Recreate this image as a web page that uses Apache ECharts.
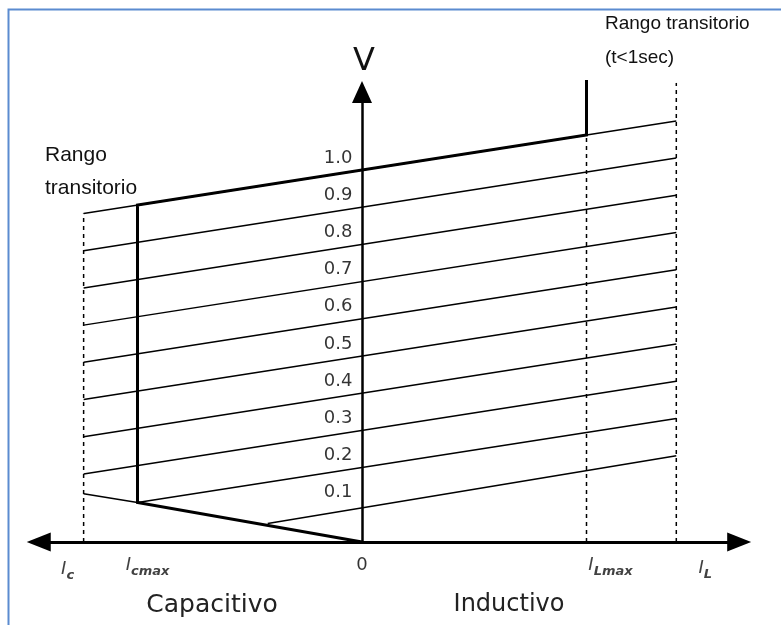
<!DOCTYPE html>
<html>
<head>
<meta charset="utf-8">
<script src="https://cdn.jsdelivr.net/npm/echarts@6/dist/echarts.min.js"></script>
<style>
  html, body { margin: 0; padding: 0; background: #fff; }
  #vi_chart { width: 781px; height: 625px; }
</style>
</head>
<body>
<div id="vi_chart"></div>
<script>
// voltage levels (labels on the V axis)
var levelNames = ['1.0', '0.9', '0.8', '0.7', '0.6', '0.5', '0.4', '0.3', '0.2', '0.1'];
var levelV = [1.0, 0.9, 0.8, 0.7, 0.6, 0.5, 0.4, 0.3, 0.2, 0.1];

// each slanted level line, start and end (x = current, Icmax = -100, ILmax = 100)
var lineStartX = [-124, -124, -124, -124, -124, -124, -124, -124, -100, -42];
var lineStartV = [0.883, 0.783, 0.683, 0.583, 0.483, 0.383, 0.283, 0.183, 0.106, 0.05];
var lineEndX = [140, 140, 140, 140, 140, 140, 140, 140, 140, 140];
var lineEndV = [1.132, 1.032, 0.932, 0.832, 0.732, 0.632, 0.532, 0.432, 0.332, 0.232];

// thick control characteristic: 0 -> Icmax -> up -> ILmax -> up
var ctrlX = [0, -100, -100, 100, 100];
var ctrlV = [0, 0.106, 0.906, 1.094, 1.242];

// thin capacitive extension to Ic
var capExtX = [-124, -100];
var capExtV = [0.13, 0.106];

// dashed limits
var dashX = [-124, 100, 140];
var dashTopV = [0.883, 1.094, 1.234];

// current labels under the axis
var currentNames = ['c', 'cmax', '0', 'Lmax', 'L'];
var currentX = [-124, -100, 0, 100, 140];

var chartDom = document.getElementById('vi_chart');
var myChart = echarts.init(chartDom);

function toPairs(xs, ys) {
  var out = [];
  for (var i = 0; i < xs.length; i++) {
    out.push([xs[i], ys[i]]);
  }
  return out;
}

var series = [];

// level lines
for (var i = 0; i < levelV.length; i++) {
  series.push({
    type: 'line',
    data: [[lineStartX[i], lineStartV[i]], [lineEndX[i], lineEndV[i]]],
    showSymbol: false,
    clip: false,
    silent: true,
    lineStyle: { color: '#000', width: 1.5 }
  });
}

series.push({
  type: 'line',
  data: toPairs(capExtX, capExtV),
  showSymbol: false,
  clip: false,
  silent: true,
  lineStyle: { color: '#000', width: 1.5 }
});

// dashed verticals
for (var j = 0; j < dashX.length; j++) {
  series.push({
    type: 'line',
    data: [[dashX[j], 0], [dashX[j], dashTopV[j]]],
    showSymbol: false,
    clip: false,
    silent: true,
    lineStyle: { color: '#000', width: 1.5, type: [4, 4] }
  });
}

series.push({
  type: 'line',
  data: toPairs(ctrlX, ctrlV),
  showSymbol: false,
  clip: false,
  silent: true,
  lineStyle: { color: '#000', width: 3, join: 'miter' }
});

// labels 1.0 ... 0.1
series.push({
  type: 'scatter',
  data: levelV.map(function (v) { return [0, v]; }),
  symbolSize: 1,
  itemStyle: { color: 'rgba(0,0,0,0)' },
  silent: true,
  label: {
    show: true,
    position: 'left',
    distance: 9,
    offset: [0, -12],
    fontFamily: 'DejaVu Sans',
    fontSize: 18,
    color: '#000',
    formatter: function (p) { return levelNames[p.dataIndex]; }
  }
});

// Ic, Icmax, 0, ILmax, IL
var labelOffsets = [[-16, 29], [10, 25], [0, 23], [24, 25], [29, 28]];
series.push({
  type: 'scatter',
  data: currentX.map(function (x, k) {
    return { value: [x, 0], label: { offset: labelOffsets[k] } };
  }),
  symbolSize: 1,
  itemStyle: { color: 'rgba(0,0,0,0)' },
  silent: true,
  label: {
    show: true,
    position: 'inside',
    color: '#000',
    fontFamily: 'DejaVu Sans',
    fontSize: 18,
    formatter: function (p) {
      var n = currentNames[p.dataIndex];
      if (n === '0') return n;
      return '{i|I}{s|' + n + '}';
    },
    rich: {
      i: { fontFamily: 'DejaVu Sans', fontStyle: 'italic', fontSize: 18, lineHeight: 22, verticalAlign: 'top', color: '#111' },
      s: { fontFamily: 'DejaVu Sans', fontStyle: 'italic', fontWeight: 'bold', fontSize: 13, lineHeight: 14, verticalAlign: 'bottom', color: '#111' }
    }
  }
});

var option = {
  backgroundColor: '#fff',
  animation: false,
  grid: { left: 38.72, right: 41.84, top: 91.88, bottom: 83 },
  xAxis: {
    type: 'value',
    min: -144,
    max: 168,
    axisLine: {
      show: true,
      onZero: true,
      symbol: ['triangle', 'triangle'],
      symbolSize: [19, 24],
      lineStyle: { color: '#000', width: 3 }
    },
    axisTick: { show: false },
    axisLabel: { show: false },
    splitLine: { show: false }
  },
  yAxis: {
    type: 'value',
    min: 0,
    max: 1.21,
    axisLine: {
      show: true,
      onZero: true,
      symbol: ['none', 'triangle'],
      symbolSize: [20, 22],
      lineStyle: { color: '#000', width: 2.5 }
    },
    axisTick: { show: false },
    axisLabel: { show: false },
    splitLine: { show: false }
  },
  graphic: [
    {
      type: 'rect',
      shape: { x: 8.5, y: 9.5, width: 800, height: 700 },
      style: { fill: 'none', stroke: '#5b8bd0', lineWidth: 2 },
      silent: true
    },
    {
      type: 'text',
      style: { x: 364, y: 62, text: 'V', fontFamily: 'DejaVu Sans', fontSize: 32, fill: '#111', align: 'center', verticalAlign: 'middle' }
    },
    {
      type: 'text',
      style: { x: 45, y: 139, text: 'Rango\ntransitorio', fontFamily: 'Liberation Sans', fontSize: 21, lineHeight: 33, fill: '#111', align: 'left', verticalAlign: 'top' }
    },
    {
      type: 'text',
      style: { x: 605, y: 14, text: 'Rango transitorio', fontFamily: 'Liberation Sans', fontSize: 19, fill: '#111', align: 'left', verticalAlign: 'top' }
    },
    {
      type: 'text',
      style: { x: 605, y: 48, text: '(t<1sec)', fontFamily: 'Liberation Sans', fontSize: 19, fill: '#111', align: 'left', verticalAlign: 'top' }
    },
    {
      type: 'text',
      style: { x: 212, y: 605, text: 'Capacitivo', fontFamily: 'DejaVu Sans', fontSize: 25, fill: '#222', align: 'center', verticalAlign: 'middle' }
    },
    {
      type: 'text',
      style: { x: 509, y: 605, text: 'Inductivo', fontFamily: 'DejaVu Sans', fontSize: 24, fill: '#222', align: 'center', verticalAlign: 'middle' }
    }
  ],
  series: series
};

option && myChart.setOption(option);
</script>
</body>
</html>
